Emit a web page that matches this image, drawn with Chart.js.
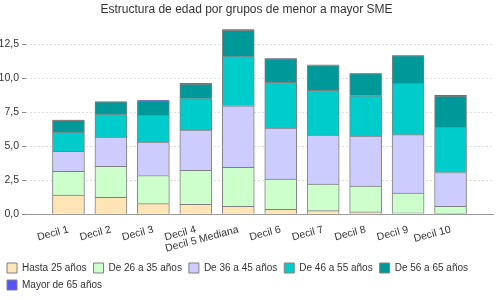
<!DOCTYPE html>
<html>
<head>
<meta charset="utf-8">
<script src="https://cdn.jsdelivr.net/npm/chart.js@4"></script>
<style>
  html, body { margin: 0; padding: 0; background: #fff; }
  #wrap { width: 500px; height: 300px; }
</style>
</head>
<body>
<div id="wrap"><canvas id="myChart"></canvas></div>
<script>
// categorias y valores
const categorias = ['Decil 1', 'Decil 2', 'Decil 3', 'Decil 4', 'Decil 5 Mediana', 'Decil 6', 'Decil 7', 'Decil 8', 'Decil 9', 'Decil 10'];
const hasta25 = [1.41, 1.26, 0.79, 0.74, 0.59, 0.37, 0.27, 0.19, 0.12, 0.05];
const de26a35 = [1.75, 2.27, 2.07, 2.49, 2.86, 2.22, 1.95, 1.88, 1.44, 0.54];
const de36a45 = [1.48, 2.15, 2.45, 2.97, 4.53, 3.76, 3.61, 3.68, 4.30, 2.49];
const de46a55 = [1.41, 1.70, 2.00, 2.30, 3.66, 3.36, 3.29, 2.97, 3.78, 3.34];
const de56a65 = [0.87, 0.89, 1.04, 1.08, 1.90, 1.75, 1.82, 1.63, 2.04, 2.28];
const mayor65 = [0.01, 0.01, 0.04, 0.05, 0.05, 0.01, 0.05, 0.01, 0.01, 0.06];
const ticksY = [0, 2.5, 5, 7.5, 10, 12.5];

// hueco vacio a cada lado del eje
const pad = arr => [null, ...arr, null];
const etiquetas = ['', ...categorias, ''];

const serie = (label, data, color) => ({
  label: label,
  data: pad(data),
  backgroundColor: color,
  borderColor: '#808080',
  borderWidth: 1,
  barThickness: 32
});

const fmt = v => v.toFixed(1).replace('.', ',');

new Chart(document.getElementById('myChart'), {
  type: 'bar',
  data: {
    labels: etiquetas,
    datasets: [
      serie('Hasta 25 años', hasta25, '#FFE4B5'),
      serie('De 26 a 35 años', de26a35, '#CCFFCC'),
      serie('De 36 a 45 años', de36a45, '#CCCCFF'),
      serie('De 46 a 55 años', de46a55, '#00CCCC'),
      serie('De 56 a 65 años', de56a65, '#009999'),
      serie('Mayor de 65 años', mayor65, '#5555FF')
    ]
  },
  options: {
    responsive: true,
    maintainAspectRatio: false,
    animation: false,
    layout: { padding: { left: 0, right: 7, top: 0, bottom: 0 } },
    plugins: {
      title: {
        display: true,
        text: 'Estructura de edad por grupos de menor a mayor SME',
        color: '#333',
        font: { family: 'Liberation Sans', size: 12, weight: 'normal' },
        padding: { top: 2, bottom: 11 }
      },
      legend: {
        position: 'bottom',
        align: 'start',
        labels: {
          boxWidth: 10,
          boxHeight: 10,
          padding: 7,
          color: '#333',
          font: { family: 'Liberation Sans', size: 10 }
        }
      },
      tooltip: { enabled: false }
    },
    scales: {
      x: {
        stacked: true,
        offset: false,
        grid: { display: false },
        border: { display: true, color: '#999' },
        ticks: {
          autoSkip: false,
          minRotation: 15,
          maxRotation: 15,
          color: '#333',
          padding: 1,
          font: { family: 'Liberation Sans', size: 10.5 }
        }
      },
      y: {
        stacked: true,
        min: 0,
        max: 13.75,
        afterFit: s => { s.width = 26; },
        afterBuildTicks: s => { s.ticks = ticksY.map(v => ({ value: v })); },
        border: { display: false, dash: [2, 2] },
        grid: {
          color: '#dddddd',
          tickColor: '#888',
          tickLength: 4,
          drawTicks: true
        },
        ticks: {
          color: '#333',
          padding: 3,
          font: { family: 'Liberation Sans', size: 10.5 },
          callback: v => fmt(v)
        }
      }
    }
  }
});
</script>
</body>
</html>
